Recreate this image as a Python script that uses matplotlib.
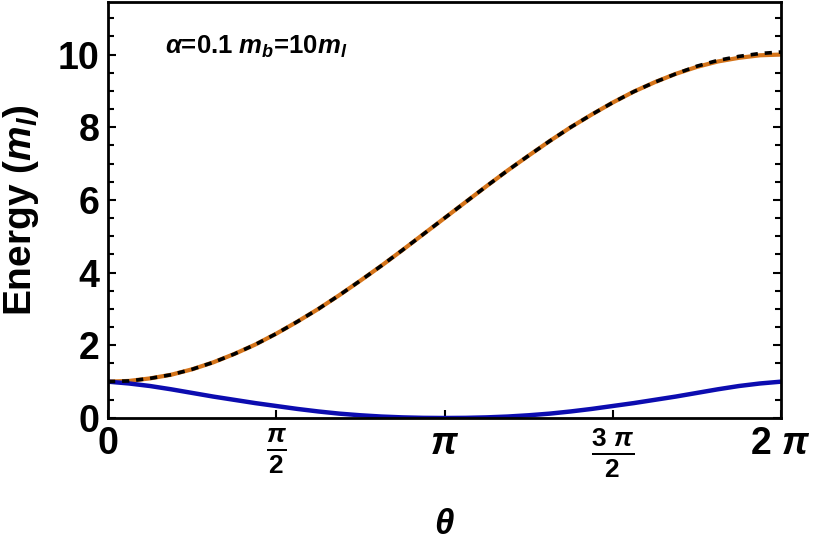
import numpy as np
import matplotlib.pyplot as plt
from matplotlib.ticker import MultipleLocator

# Font: Arial-like bold for everything, including mathtext
plt.rcParams['font.family'] = ['Liberation Sans', 'DejaVu Sans']
plt.rcParams['font.weight'] = 'bold'
plt.rcParams['mathtext.fontset'] = 'custom'
plt.rcParams['mathtext.rm'] = 'Liberation Sans:bold'
plt.rcParams['mathtext.it'] = 'Liberation Sans:bold:italic'
plt.rcParams['mathtext.bf'] = 'Liberation Sans:bold'

# === Data (theta in steps of pi/16) === #
theta_steps = list(range(33))  # k * pi/16
upper_level = [1.00, 1.02, 1.09, 1.19, 1.34, 1.53, 1.76, 2.02, 2.32, 2.65, 3.00,
               3.38, 3.78, 4.19, 4.62, 5.06, 5.50, 5.94, 6.38, 6.81, 7.22, 7.62,
               8.00, 8.35, 8.68, 8.98, 9.24, 9.47, 9.66, 9.81, 9.91, 9.98, 10.00]
upper_approx = [1.00, 1.02, 1.09, 1.19, 1.34, 1.53, 1.76, 2.02, 2.32, 2.65, 3.00,
                3.38, 3.78, 4.19, 4.62, 5.06, 5.50, 5.94, 6.38, 6.81, 7.22, 7.62,
                8.00, 8.35, 8.68, 8.98, 9.24, 9.47, 9.68, 9.84, 9.95, 10.03, 10.07]
lower_level = [1.00, 0.95, 0.88, 0.79, 0.69, 0.59, 0.50, 0.41, 0.33, 0.25, 0.18,
               0.12, 0.075, 0.04, 0.017, 0.004, 0.00, 0.004, 0.017, 0.04, 0.075,
               0.12, 0.18, 0.25, 0.33, 0.41, 0.50, 0.59, 0.69, 0.79, 0.88, 0.95, 1.00]

x_tick_labels = [r'$\mathbf{0}$', r'$\frac{\pi}{\mathbf{2}}$', r'$\pi$',
                 r'$\frac{\mathbf{3}\ \pi}{\mathbf{2}}$', r'$\mathbf{2}\ \pi$']

theta = np.array(theta_steps) * np.pi / 16

fig = plt.figure(figsize=(8.14, 5.48), dpi=100)
ax = fig.add_axes([108 / 814, 1 - 418 / 548, 673 / 814, 416.5 / 548])

ax.plot(theta, upper_level, color='#D5741A', lw=3.0, solid_capstyle='butt')
ax.plot(theta, lower_level, color='#0C0CB0', lw=3.2, solid_capstyle='butt')
ax.plot(theta, upper_approx, color='black', lw=2.6, dashes=(2.0, 1.9))

ax.set_xlim(0, 2 * np.pi)
ax.set_ylim(0, 11.46)

ax.set_xticks(np.arange(5) * np.pi / 2)
ax.set_xticklabels(x_tick_labels)
ax.yaxis.set_major_locator(MultipleLocator(2))
ax.yaxis.set_minor_locator(MultipleLocator(0.5))

ax.tick_params(axis='both', which='both', direction='in', width=1.5,
               labelsize=27, pad=6)
ax.tick_params(axis='y', which='major', length=6, right=True)
ax.tick_params(axis='y', which='minor', length=4, right=True)
ax.tick_params(axis='x', which='major', length=6)

for s in ax.spines.values():
    s.set_linewidth(2.0)

ax.set_xlabel(r'$\theta$', fontsize=25, labelpad=20)
ax.set_ylabel(r'Energy ($m_l$)', fontsize=28, fontweight='bold', labelpad=12)

ax.text(0.085, 0.89, r'$\alpha$=0.1 $m_b$=10$m_l$', transform=ax.transAxes,
        fontsize=18.5, fontweight='bold', va='center', ha='left')

plt.savefig('out.png', dpi=100)
plt.close()
